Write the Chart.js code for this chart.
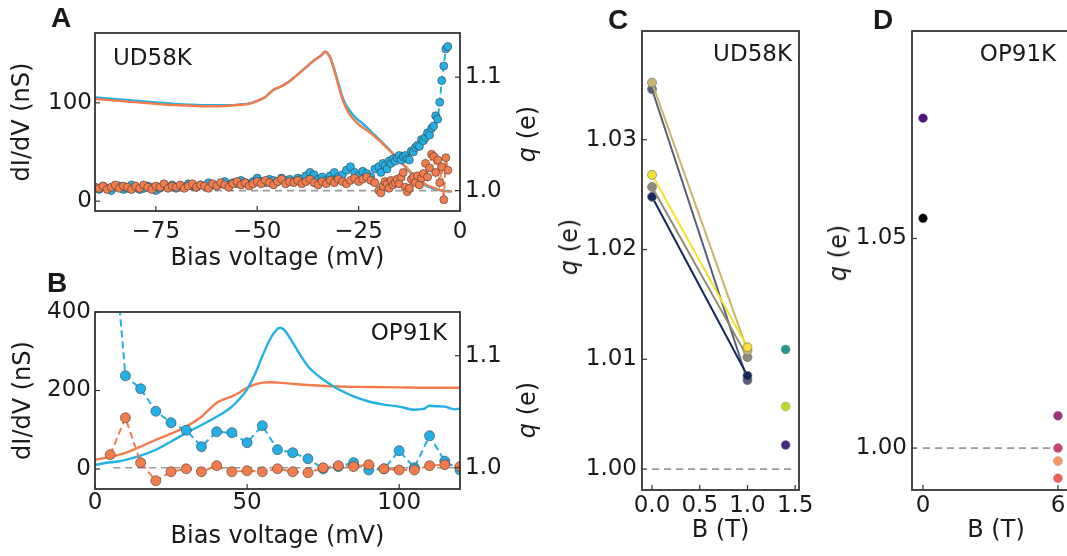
<!DOCTYPE html>
<html>
<head>
<meta charset="utf-8">
<script src="https://cdn.jsdelivr.net/npm/chart.js@4.4.0/dist/chart.umd.min.js"></script>
<style>
  html, body { margin: 0; padding: 0; background: #fff; overflow: hidden; }
  #fig { position: relative; width: 1067px; height: 556px; overflow: hidden; font-family: 'DejaVu Sans', sans-serif; color: #1a1a1a; }
  canvas { position: absolute; }
  .lbl { position: absolute; white-space: nowrap; line-height: 1; }
  .panel { font-family: 'Liberation Sans', Arial, sans-serif; font-weight: bold; font-size: 28px; transform: translate(-50%, -50%); }
  .note { font-size: 23px; }
  .qlab { font-size: 24px; transform: translate(-50%, -50%) rotate(-90deg); }
</style>
</head>
<body>
<div id="fig">
  <canvas id="chartA" width="560" height="275" style="left:0;top:0"></canvas>
  <canvas id="chartB" width="560" height="281" style="left:0;top:275px"></canvas>
  <canvas id="chartC" width="280" height="556" style="left:550px;top:0"></canvas>
  <canvas id="chartD" width="275" height="556" style="left:825px;top:0"></canvas>

  <div class="lbl panel" style="left:61px;top:18px">A</div>
  <div class="lbl panel" style="left:57px;top:283px">B</div>
  <div class="lbl panel" style="left:618px;top:20px">C</div>
  <div class="lbl panel" style="left:883px;top:20px">D</div>

  <div class="lbl note" style="left:113px;top:57px;transform:translateY(-50%)">UD58K</div>
  <div class="lbl note" style="right:620px;top:332px;transform:translateY(-50%)">OP91K</div>
  <div class="lbl note" style="right:275px;top:53px;transform:translateY(-50%)">UD58K</div>
  <div class="lbl note" style="left:1018px;top:53px;transform:translate(-50%,-50%)">OP91K</div>

  <div class="lbl qlab" style="left:527px;top:134px"><i>q</i> (e)</div>
  <div class="lbl qlab" style="left:527px;top:410px"><i>q</i> (e)</div>
  <div class="lbl qlab" style="left:569px;top:247px"><i>q</i> (e)</div>
  <div class="lbl qlab" style="left:838px;top:253px"><i>q</i> (e)</div>
</div>

<script>
// ---- UD58K, negative bias: shot-noise charge (right axis) ----
const biasA = [
  -90, -89, -88, -87, -86, -85, -84, -83, -82, -81,
  -80, -79, -78, -77, -76, -75, -74, -73, -72, -71,
  -70, -69, -68, -67, -66, -65, -64, -63, -62, -61,
  -60, -59, -58, -57, -56, -55, -54, -53, -52, -51,
  -50, -49, -48, -47, -46, -45, -44, -43, -42, -41,
  -40, -39, -38, -37, -36, -35, -34, -33, -32, -31,
  -30, -29, -28, -27, -26, -25, -24, -23, -22, -21,
  -20, -19.5, -19, -18.5, -18, -17.5, -17, -16.5, -16, -15.5,
  -15, -14.5, -14, -13.5, -13, -12.5, -12, -11.5, -11, -10.5,
  -10, -9.5, -9, -8.5, -8, -7.5, -7, -6.5, -6, -5.5,
  -5, -4.5, -4, -3.5, -3
];
const qBlueA = [
  1.003, 1.001, 1.004, 1.002, 1.000, 1.003, 1.004, 1.001, 1.002, 1.005,
  1.003, 1.001, 1.002, 1.004, 1.003, 1.000, 1.002, 1.004, 1.003, 1.005,
  1.002, 1.004, 1.003, 1.006, 1.004, 1.003, 1.005, 1.004, 1.007, 1.005,
  1.004, 1.006, 1.008, 1.005, 1.007, 1.006, 1.009, 1.007, 1.006, 1.008,
  1.011, 1.008, 1.007, 1.010, 1.009, 1.008, 1.011, 1.009, 1.010, 1.008,
  1.011, 1.010, 1.013, 1.016, 1.014, 1.010, 1.012, 1.009, 1.013, 1.016,
  1.012, 1.014, 1.018, 1.021, 1.016, 1.013, 1.017, 1.015, 1.012, 1.019,
  1.021, 1.016, 1.024, 1.022, 1.019, 1.026, 1.024, 1.028, 1.026, 1.029,
  1.031, 1.027, 1.030, 1.031, 1.028, 1.027, 1.035, 1.034, 1.038, 1.040,
  1.039, 1.045, 1.044, 1.047, 1.051, 1.049, 1.055, 1.057, 1.066, 1.063,
  1.078, 1.097, 1.110, 1.125, 1.127
];
const qOrangeA = [
  1.003, 1.002, 1.004, 1.001, 1.003, 1.005, 1.002, 1.004, 1.003, 1.001,
  1.004, 1.002, 1.005, 1.003, 1.001, 1.004, 1.003, 1.006, 1.002, 1.004,
  1.003, 1.005, 1.002, 1.004, 1.006, 1.003, 1.005, 1.004, 1.002, 1.006,
  1.004, 1.007, 1.005, 1.003, 1.006, 1.008, 1.005, 1.007, 1.004, 1.006,
  1.008, 1.006, 1.009, 1.007, 1.005, 1.008, 1.010, 1.006, 1.008, 1.007,
  1.009, 1.006, 1.008, 1.010, 1.007, 1.005, 1.008, 1.006, 1.009, 1.007,
  1.010, 1.008, 1.006, 1.009, 1.011, 1.008, 1.010, 1.012, 1.009, 1.007,
  1.000, 0.998, 1.004, 1.008, 1.006, 1.002, 1.009, 1.005, 1.007, 1.010,
  1.006, 1.012, 1.016, 1.003, 0.999, 1.002, 1.010, 1.012, 1.007, 1.013,
  1.005, 1.011, 1.015, 1.024, 1.012, 1.020, 1.032, 1.030, 1.016, 1.027,
  1.007, 1.021, 0.992, 1.029, 1.018
];

// ---- UD58K, negative bias: differential conductance (left axis) ----
const biasLineA = [
  -90, -87, -84, -81, -78, -75, -72, -69, -66, -63, -60, -57, -54, -52, -50,
  -48, -46, -44, -42, -40, -38, -36, -35, -34, -33.4, -32.8, -32, -31, -30,
  -29, -28, -27, -26, -25, -24, -22, -20, -18, -16, -14, -12, -10, -8, -6, -4, -2
];
const didvOrangeA = [
  104, 103, 102, 101, 100, 99, 98, 97.5, 97, 96.5, 96.5, 97, 98, 99, 102,
  106, 113, 117, 122, 129, 136, 143, 146, 149, 152, 151, 146, 133, 118,
  104, 94, 87, 82, 78, 75, 69, 62, 54, 46, 38, 29, 22, 16, 13, 10.5, 10
];
const didvBlueA = [
  105.5, 104.5, 103.5, 102.5, 101.5, 100.5, 99.5, 98.5, 98, 97.5, 97.5, 97.5, 98.5, 99.5, 102,
  106, 113, 117, 122, 129, 136, 143, 146, 149, 152, 151, 146, 134, 120,
  106, 97, 91, 86, 82, 79, 71, 63, 55, 46, 37, 28, 20, 15, 12, 10.5, 10
];

// ---- OP91K, positive bias ----
const biasPtsB = [5, 10, 15, 20, 25, 30, 35, 40, 45, 50, 55, 60, 65, 70, 75, 80, 85, 90, 95, 100, 105, 110, 115, 120];
const qBlueB = [1.24, 1.0821, 1.0705, 1.0504, 1.0402, 1.0335, 1.0188, 1.0321, 1.0313, 1.0223, 1.0375, 1.0161,
                1.0134, 1.008, 0.999, 1.001, 1.0045, 0.998, 0.999, 1.0152, 1.0, 1.0286, 1.0058, 0.998];
const qOrangeB = [1.0116, 1.0446, 1.0045, 0.9884, 0.9964, 0.999, 0.9964, 1.0018, 0.9964, 0.9973, 0.9964, 0.999,
                  0.9964, 0.9955, 1.0, 1.0018, 1.001, 1.0027, 0.999, 0.998, 0.998, 1.0018, 1.0027, 1.001];
const biasLineB = [0, 2.5, 5, 7.5, 10, 15, 20, 25, 30, 35, 40, 45, 50, 52.5, 55, 57.5, 60, 61, 62.5,
                   65, 67.5, 70, 72.5, 75, 77.5, 80, 85, 90, 95, 100, 105, 108, 110, 112, 115, 118, 120];
const didvBlueB = [10, 14, 17, 19, 23, 34, 49, 70, 92, 112, 133, 159, 203, 240, 287, 330, 357, 360, 352,
                   322, 290, 262, 243, 228, 215, 203, 185, 172, 164, 159, 151, 153, 161, 160, 159, 152, 154];
const biasLineB2 = [0, 5, 10, 15, 20, 25, 30, 35, 40, 42.5, 45, 47.5, 50, 52.5, 55, 57.5, 60, 65, 70, 80, 90, 100, 110, 120];
const didvOrangeB = [23, 31, 41, 57, 74, 90, 108, 133, 169, 178, 185, 195, 207, 215, 220, 221, 220, 217, 214, 210, 209, 208, 207, 207];

// ---- charge vs field ----
const fieldC = [0, 1.0];
const qC1 = [1.0352, 1.0108];
const qC2 = [1.0346, 1.0081];
const qC3 = [1.0268, 1.0111];
const qC4 = [1.0257, 1.0102];
const qC5 = [1.0248, 1.0085];
const fieldC6 = [1.4, 1.4, 1.4];
const qC6 = [1.0109, 1.0057, 1.0022];

const fieldD = [0, 0, 6, 6, 6, 6];
const qD = [1.0787, 1.0548, 1.0077, 1.000, 0.9969, 0.9928];

// colours
const BLUE = '#22b0e6';
const ORANGE = '#f47c4c';
const INK = '#1a1a1a';
const FONT = 'DejaVu Sans';
const colorsC = ['#c9b46b', '#555e76', '#f5e12a', '#8d8a7a', '#13295a'];
const colorsC6 = ['#25968b', '#b8dc2e', '#472a7a'];
const colorsD = ['#50127b', '#050308', '#a2307f', '#cd3f71', '#fa9664', '#ef5b55'];

function pointsOf(xs, ys) {
  return xs.map((x, i) => ({ x: x, y: ys[i] }));
}

// frame around the plot area plus short inward tick marks
const frameTicks = {
  id: 'frameTicks',
  afterDatasetsDraw(chart) {
    const ctx = chart.ctx;
    const a = chart.chartArea;
    ctx.save();
    ctx.strokeStyle = '#333';
    ctx.lineWidth = 1.8;
    ctx.strokeRect(a.left, a.top, a.right - a.left, a.bottom - a.top);
    ctx.lineWidth = 1.2;
    Object.values(chart.scales).forEach(s => {
      s.ticks.forEach(t => {
        const p = s.getPixelForValue(t.value);
        ctx.beginPath();
        if (s.axis === 'x') { ctx.moveTo(p, a.bottom); ctx.lineTo(p, a.bottom - 5); }
        else if (s.position === 'left') { ctx.moveTo(a.left, p); ctx.lineTo(a.left + 5, p); }
        else { ctx.moveTo(a.right, p); ctx.lineTo(a.right - 5, p); }
        ctx.stroke();
      });
    });
    ctx.restore();
  }
};

function axis(o) {
  return {
    type: 'linear',
    position: o.position,
    min: o.min,
    max: o.max,
    grid: { display: false, drawTicks: false },
    border: { display: false },
    ticks: {
      stepSize: o.step,
      includeBounds: false,
      autoSkip: false,
      maxRotation: 0,
      minRotation: 0,
      padding: o.pad,
      color: INK,
      font: { family: FONT, size: 23 },
      callback: o.fmt
    },
    // bottom titles take their gap from padding.bottom, side titles from padding.top
    title: o.title
      ? { display: true, text: o.title, color: INK, font: { family: FONT, size: 24 },
          padding: { top: o.titlePad, bottom: o.titlePad } }
      : { display: false },
    afterFit: o.fit
  };
}

const minusFmt = v => (v < 0 ? '\u2212' + Math.abs(v) : String(v));
const fmt1 = v => v.toFixed(1);
const fmt2 = v => v.toFixed(2);

function baseOptions(padding, scales) {
  return {
    responsive: false,
    animation: false,
    events: [],
    layout: { padding: padding },
    plugins: { legend: { display: false }, tooltip: { enabled: false } },
    scales: scales
  };
}

function qSeries(xs, ys, color, radius) {
  return {
    data: pointsOf(xs, ys),
    yAxisID: 'y1',
    showLine: true,
    borderColor: color,
    borderWidth: 2,
    borderDash: [7, 4],
    pointRadius: radius,
    pointBackgroundColor: color,
    pointBorderColor: 'rgba(60,60,60,0.85)',
    pointBorderWidth: 0.7
  };
}

function didvSeries(xs, ys, color) {
  return {
    data: pointsOf(xs, ys),
    yAxisID: 'y',
    showLine: true,
    borderColor: color,
    borderWidth: 2.4,
    pointRadius: 0,
    cubicInterpolationMode: 'monotone'
  };
}

function refLine(xs, axisId) {
  return {
    data: pointsOf(xs, [1, 1]),
    yAxisID: axisId,
    showLine: true,
    borderColor: '#999',
    borderWidth: 1.6,
    borderDash: [7, 5],
    pointRadius: 0
  };
}

// Panel A
new Chart(document.getElementById('chartA'), {
  type: 'scatter',
  data: {
    datasets: [
      qSeries(biasA, qOrangeA, ORANGE, 4),
      qSeries(biasA, qBlueA, BLUE, 4),
      refLine([-90, -1], 'y1'),
      didvSeries(biasLineA, didvOrangeA, ORANGE),
      didvSeries(biasLineA, didvBlueA, BLUE)
    ]
  },
  options: baseOptions({ top: 33, left: 0, right: 0, bottom: 0 }, {
    x: axis({ position: 'bottom', min: -90, max: 0, step: 25, pad: 7, fmt: minusFmt,
              title: 'Bias voltage (mV)', titlePad: 2, fit: s => { s.height = 64; } }),
    y: axis({ position: 'left', min: -10, max: 171, step: 100, pad: 3, fmt: minusFmt,
              title: 'dI/dV (nS)', titlePad: 8, fit: s => { s.width = 95; } }),
    y1: axis({ position: 'right', min: 0.982, max: 1.139, step: 0.1, pad: 5, fmt: fmt1,
               fit: s => { s.width = 100; } })
  }),
  plugins: [frameTicks]
});

// Panel B
new Chart(document.getElementById('chartB'), {
  type: 'scatter',
  data: {
    datasets: [
      qSeries(biasPtsB, qOrangeB, ORANGE, 5),
      qSeries(biasPtsB, qBlueB, BLUE, 5),
      refLine([6, 120], 'y1'),
      didvSeries(biasLineB, didvBlueB, BLUE),
      didvSeries(biasLineB2, didvOrangeB, ORANGE)
    ]
  },
  options: baseOptions({ top: 37, left: 0, right: 0, bottom: 0 }, {
    x: axis({ position: 'bottom', min: 0, max: 120, step: 50, pad: 0, fmt: minusFmt,
              title: 'Bias voltage (mV)', titlePad: 5, fit: s => { s.height = 67; } }),
    y: axis({ position: 'left', min: -51, max: 400, step: 200, pad: 4, fmt: minusFmt,
              title: 'dI/dV (nS)', titlePad: 9, fit: s => { s.width = 95; } }),
    y1: axis({ position: 'right', min: 0.981, max: 1.139, step: 0.1, pad: 5, fmt: fmt1,
               fit: s => { s.width = 100; } })
  }),
  plugins: [frameTicks]
});

// Panel C
function fieldSeries(xs, ys, color, withLine) {
  return {
    data: pointsOf(xs, ys),
    showLine: withLine,
    borderColor: color,
    borderWidth: 2,
    pointRadius: 4.5,
    pointBackgroundColor: color,
    pointBorderColor: 'rgba(120,120,120,0.9)',
    pointBorderWidth: 0.8
  };
}

const c6Sets = fieldC6.map((x, i) => ({
  data: [{ x: x, y: qC6[i] }],
  pointRadius: 4.5,
  pointBackgroundColor: colorsC6[i],
  pointBorderColor: 'rgba(140,140,140,0.6)',
  pointBorderWidth: 0.6
}));

const cRef = refLine([0, 1.5], 'y');

new Chart(document.getElementById('chartC'), {
  type: 'scatter',
  data: {
    datasets: [
      fieldSeries(fieldC, qC3, colorsC[2], true),
      fieldSeries(fieldC, qC1, colorsC[0], true),
      fieldSeries(fieldC, qC4, colorsC[3], true),
      fieldSeries(fieldC, qC5, colorsC[4], true),
      fieldSeries(fieldC, qC2, colorsC[1], true)
    ].concat(c6Sets, [cRef])
  },
  options: baseOptions({ top: 31, left: 0, right: 31, bottom: 0 }, {
    x: axis({ position: 'bottom', min: -0.105, max: 1.54, step: 0.5, pad: 2, fmt: fmt1,
              title: 'B (T)', titlePad: 11, fit: s => { s.height = 66; } }),
    y: axis({ position: 'left', min: 0.9981, max: 1.0399, step: 0.01, pad: 5, fmt: fmt2,
              fit: s => { s.width = 92; } })
  }),
  plugins: [frameTicks]
});

// Panel D
const dSets = fieldD.map((x, i) => ({
  data: [{ x: x, y: qD[i] }],
  pointRadius: 4.5,
  pointBackgroundColor: colorsD[i],
  pointBorderColor: 'rgba(140,140,140,0.6)',
  pointBorderWidth: 0.6
}));

new Chart(document.getElementById('chartD'), {
  type: 'scatter',
  data: { datasets: dSets.concat([refLine([0, 7], 'y')]) },
  options: baseOptions({ top: 31, left: 0, right: 20, bottom: 0 }, {
    x: axis({ position: 'bottom', min: -0.49, max: 6.98, step: 6, pad: 2, fmt: v => String(v),
              title: 'B (T)', titlePad: 11, fit: s => { s.height = 66; } }),
    y: axis({ position: 'left', min: 0.99, max: 1.0995, step: 0.05, pad: 5, fmt: fmt2,
              fit: s => { s.width = 87; } })
  }),
  plugins: [frameTicks]
});
</script>
</body>
</html>
